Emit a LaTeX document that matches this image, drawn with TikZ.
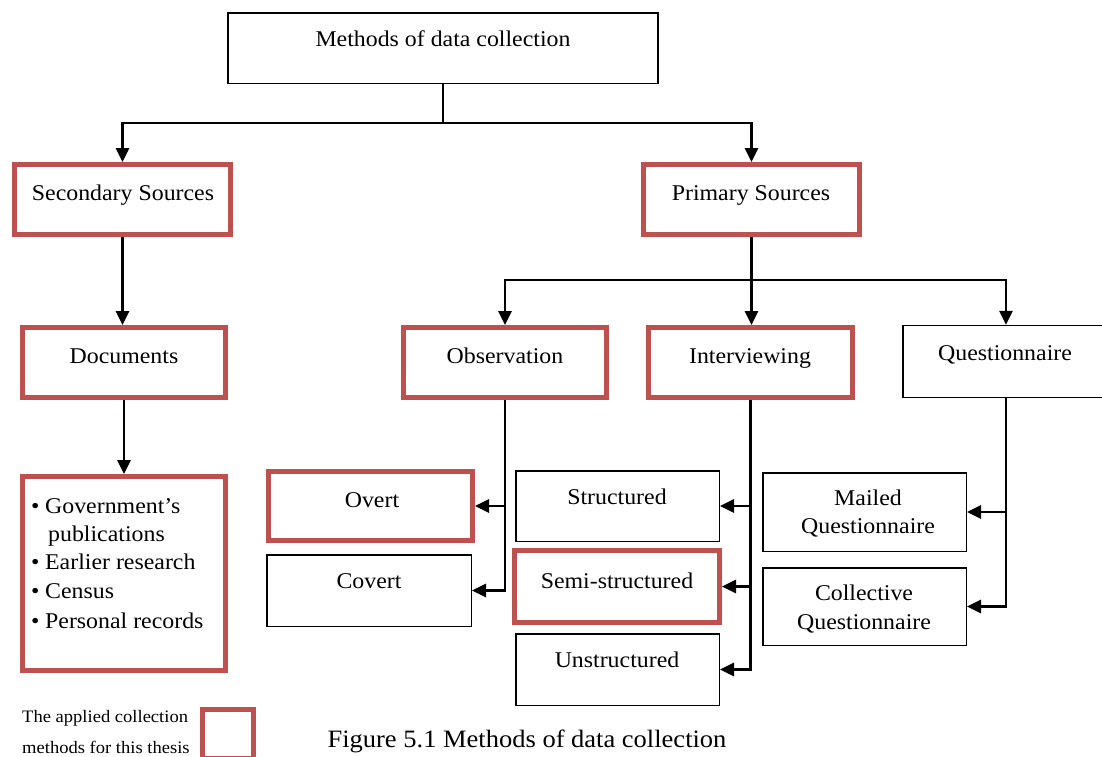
\documentclass[tikz,border=0pt]{standalone}
\usepackage{fontspec}
\setmainfont[FakeStretch=1.06]{Liberation Serif}
\usetikzlibrary{arrows.meta}
\definecolor{boxred}{HTML}{C0504D}

\begin{document}
\begin{tikzpicture}[x=1pt,y=-1pt,
  plain/.style={draw=black, line width=1.5pt, rectangle, inner sep=0pt},
  applied/.style={draw=boxred, line width=5pt, rectangle, inner sep=0pt},
  lbl/.style={anchor=base, inner sep=0pt, font=\fontsize{22.5}{29}\selectfont},
  item/.style={anchor=base west, inner sep=0pt, font=\fontsize{22.5}{29}\selectfont},
  note/.style={anchor=base west, inner sep=0pt, font=\fontsize{17.5}{22}\selectfont},
  link/.style={line width=2.8pt},
  arr/.style={link, -{Triangle[length=14pt,width=13pt]}},
]
\useasboundingbox (0,0) rectangle (1102,756);

% ---------- boxes ----------
\node[plain,   minimum width=430pt,   minimum height=70.5pt] (top)   at (443,48)     {};
\node[applied, minimum width=216pt,   minimum height=70pt]   (sec)   at (122.5,199.5) {};
\node[applied, minimum width=216pt,   minimum height=70pt]   (prim)  at (751.5,199.5) {};
\node[applied, minimum width=203pt,   minimum height=70pt]   (doc)   at (124,362.5)  {};
\node[applied, minimum width=203pt,   minimum height=70pt]   (obs)   at (505,362.5)  {};
\node[applied, minimum width=204pt,   minimum height=70pt]   (int)   at (750.5,362.5) {};
\node[plain,   minimum width=206pt,   minimum height=72pt]   (que)   at (1006,361.5) {};
\node[applied, minimum width=203pt,   minimum height=194pt]  (list)  at (124,573.5)  {};
\node[applied, minimum width=204pt,   minimum height=69pt]   (overt) at (370.5,506)  {};
\node[plain,   minimum width=204.5pt, minimum height=71.5pt] (covert) at (369,590.5) {};
\node[plain,   minimum width=203.5pt, minimum height=70.5pt] (struc) at (617.5,506)  {};
\node[applied, minimum width=205pt,   minimum height=72pt]   (semi)  at (617,586.5)  {};
\node[plain,   minimum width=203.5pt, minimum height=71.5pt] (unstr) at (617.5,669.5) {};
\node[plain,   minimum width=203.5pt, minimum height=78.5pt] (mail)  at (864.5,512)  {};
\node[plain,   minimum width=203.5pt, minimum height=77.5pt] (coll)  at (864.5,606.5) {};
\node[applied, minimum width=51pt,    minimum height=49pt]   (key)   at (228,734)    {};

% ---------- texts ----------
\node[lbl] (tTop)   at (443,46)  {Methods of data collection};
\node[lbl] (tSec)   at (123,200) {Secondary Sources};
\node[lbl] (tPrim)  at (751,200) {Primary Sources};
\node[lbl] (tDoc)   at (124,363) {Documents};
\node[lbl] (tObs)   at (505,363) {Observation};
\node[lbl] (tInt)   at (750,363) {Interviewing};
\node[lbl] (tQue)   at (1005,360) {Questionnaire};
\node[lbl] (tOvert) at (372,507) {Overt};
\node[lbl] (tCov)   at (369,588) {Covert};
\node[lbl] (tStr)   at (617,504) {Structured};
\node[lbl] (tSemi)  at (617,588) {Semi-structured};
\node[lbl] (tUns)   at (617,667) {Unstructured};
\node[lbl] (tMailA) at (868,505) {Mailed};
\node[lbl] (tMailB) at (868,533) {Questionnaire};
\node[lbl] (tColA)  at (864,600) {Collective};
\node[lbl] (tColB)  at (864,629) {Questionnaire};

\node[item] (i1)  at (31,513) {\makebox[14pt][l]{\textbullet}Government’s};
\node[item] (i1b) at (48,541) {publications};
\node[item] (i2)  at (31,569) {\makebox[14pt][l]{\textbullet}Earlier research};
\node[item] (i3)  at (31,598) {\makebox[14pt][l]{\textbullet}Census};
\node[item] (i4)  at (31,628) {\makebox[14pt][l]{\textbullet}Personal records};

\node[note] (k1) at (22,722) {The applied collection};
\node[note] (k2) at (22,753) {methods for this thesis};

\node[anchor=base, inner sep=0pt, font=\fontsize{25}{30}\selectfont] (cap) at (527,747)
  {Figure 5.1 Methods of data collection};

% ---------- connectors ----------
\draw[link] (top.south) -- (top.south |- 0,123) coordinate (j1);
\draw[arr] (j1) -| (sec.north);
\draw[arr] (j1) -| (prim.north);

\draw[arr] (sec.south) -- (sec.south |- doc.north);
\draw[arr] (doc.south) -- (list.north);

\draw[link] (prim.south) -- (prim.south |- 0,280) coordinate (j2);
\draw[arr] (j2) -- (j2 |- int.north);
\draw[arr] (j2) -| (obs.north);
\draw[arr] (j2) -| (que.north);

\draw[arr] (obs.south) |- (covert.east);
\draw[arr] (obs.south |- overt.east) -- (overt.east);

\draw[arr] (int.south) |- (unstr.east);
\draw[arr] (int.south |- struc.east) -- (struc.east);
\draw[arr] (int.south |- semi.east) -- (semi.east);

\draw[arr] (que.south) |- (coll.east);
\draw[arr] (que.south |- mail.east) -- (mail.east);
\end{tikzpicture}
\end{document}
